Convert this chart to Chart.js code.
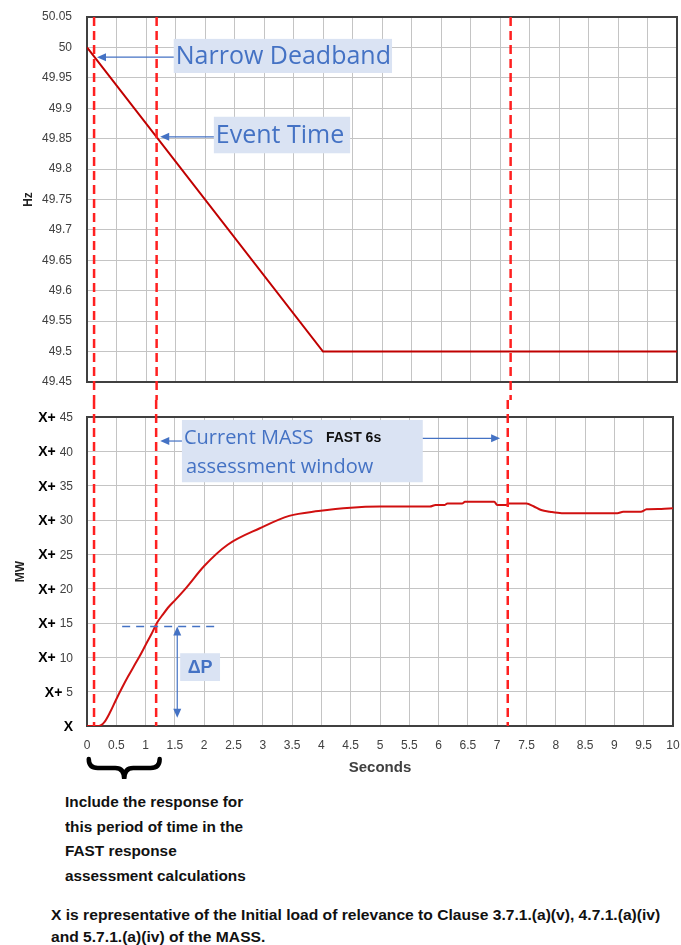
<!DOCTYPE html>
<html lang="en">
<head>
<meta charset="UTF-8">
<title>Frequency / MW response</title>
<script src="https://cdn.jsdelivr.net/npm/chart.js@4.4.0/dist/chart.umd.min.js"></script>
<style>
    body { margin: 0; background: #fff; }
    .page { position: relative; width: 681px; height: 945px; overflow: hidden; }
    #hz { position: absolute; left: 0; top: 0; }
    #mw { position: absolute; left: 0; top: 400px; }
    .note {
        position: absolute;
        width: max-content;
        font-family: "Liberation Sans", Arial, sans-serif;
        font-weight: bold;
        color: #111;
        white-space: nowrap;
        transform-origin: 0 0;
    }
    #period { left: 65px; top: 790px; font-size: 15px; line-height: 24.5px; }
    #footer { left: 51px; top: 904px; font-size: 15px; line-height: 22px; }
</style>
</head>
<body>
<div class="page">
    <canvas id="hz" width="681" height="400"></canvas>
    <canvas id="mw" width="681" height="390"></canvas>
    <div class="note" id="period">Include the response for<br>this period of time in the<br>FAST response<br>assessment calculations</div>
    <div class="note" id="footer">X is representative of the Initial load of relevance to Clause 3.7.1.(a)(v), 4.7.1.(a)(iv)<br>and 5.7.1.(a)(iv) of the MASS.</div>
</div>

<script>

// frequency trace (top panel)
var hzTime  = [0, 4, 10];
var hzValue = [50, 49.5, 49.5];
var hzTicks = [49.45, 49.5, 49.55, 49.6, 49.65, 49.7, 49.75, 49.8, 49.85, 49.9, 49.95, 50, 50.05];
var hzTickLabels = ['49.45', '49.5', '49.55', '49.6', '49.65', '49.7', '49.75', '49.8', '49.85', '49.9', '49.95', '50', '50.05'];

// MW trace (bottom panel), values above the initial load X
var mwTime  = [0, 0.2, 0.3, 0.4, 0.5, 0.6, 0.7, 0.8, 0.9, 1.0, 1.1, 1.2, 1.3, 1.4, 1.5, 1.7, 2.0, 2.4, 2.95, 3.45, 3.95,
               4.5, 5.0, 5.85, 5.95, 6.1, 6.15, 6.4, 6.45, 6.95, 7.0, 7.15, 7.2, 7.5, 7.62, 7.75, 7.9, 8.1, 9.05, 9.15, 9.45, 9.55, 9.8, 10];
var mwValue = [0, 0, 0.6, 2.1, 3.9, 5.6, 7.2, 8.7, 10.2, 11.8, 13.4, 15.1, 16.3, 17.4, 18.3, 20.2, 23.3, 26.4, 28.8, 30.6, 31.3,
               31.8, 31.95, 31.95, 32.2, 32.2, 32.4, 32.4, 32.65, 32.65, 32.2, 32.2, 32.4, 32.4, 32.0, 31.45, 31.2, 31.0, 31.0, 31.2, 31.2, 31.55, 31.6, 31.7];
var mwTicks = [0, 5, 10, 15, 20, 25, 30, 35, 40, 45];
var mwTickNumbers = ['', '5', '10', '15', '20', '25', '30', '35', '40', '45'];

// shared time axis
var secTicks = [0, 0.5, 1, 1.5, 2, 2.5, 3, 3.5, 4, 4.5, 5, 5.5, 6, 6.5, 7, 7.5, 8, 8.5, 9, 9.5, 10];
var secTickLabels = ['0', '0.5', '1', '1.5', '2', '2.5', '3', '3.5', '4', '4.5', '5', '5.5', '6', '6.5', '7', '7.5', '8', '8.5', '9', '9.5', '10'];

// red dashed markers: narrow deadband, event time, end of FAST 6s window
var markerTimes = [0.12, 1.18, 7.18];

var BLUE = '#4472c4';
var BOX = '#dae3f3';
var GRID = '#c4c4c4';
var FRAME = '#404040';

function toPoints(xs, ys) {
    return xs.map(function (x, i) { return { x: x, y: ys[i] }; });
}

function arrow(ctx, x1, y1, x2, y2) {
    var a = Math.atan2(y2 - y1, x2 - x1);
    ctx.beginPath();
    ctx.moveTo(x1, y1);
    ctx.lineTo(x2 - Math.cos(a) * 6, y2 - Math.sin(a) * 6);
    ctx.stroke();
    ctx.beginPath();
    ctx.moveTo(x2, y2);
    ctx.lineTo(x2 - Math.cos(a) * 9 + Math.sin(a) * 4, y2 - Math.sin(a) * 9 - Math.cos(a) * 4);
    ctx.lineTo(x2 - Math.cos(a) * 9 - Math.sin(a) * 4, y2 - Math.sin(a) * 9 + Math.cos(a) * 4);
    ctx.closePath();
    ctx.fill();
}

var framePlugin = {
    id: 'frame',
    beforeDatasetsDraw: function (chart) {
        var a = chart.chartArea, ctx = chart.ctx;
        ctx.save();
        ctx.strokeStyle = FRAME;
        ctx.lineWidth = 2;
        ctx.strokeRect(a.left, a.top, a.right - a.left, a.bottom - a.top);
        ctx.restore();
    }
};

function markerPlugin(fromTop) {
    return {
        id: 'markers',
        afterDatasetsDraw: function (chart) {
            var ctx = chart.ctx, x = chart.scales.x, a = chart.chartArea;
            ctx.save();
            ctx.strokeStyle = '#ff2020';
            ctx.lineWidth = 2.5;
            ctx.setLineDash([9, 5]);
            markerTimes.forEach(function (t) {
                var px = x.getPixelForValue(t);
                ctx.beginPath();
                if (fromTop) { ctx.moveTo(px, a.top); ctx.lineTo(px, chart.height); }
                else { ctx.moveTo(px, 0); ctx.lineTo(px, a.bottom); }
                ctx.stroke();
            });
            ctx.restore();
        }
    };
}

function box(ctx, xs, ys, t0, t1, v0, v1) {
    var l = xs.getPixelForValue(t0), r = xs.getPixelForValue(t1);
    var t = ys.getPixelForValue(v0), b = ys.getPixelForValue(v1);
    ctx.fillStyle = BOX;
    ctx.fillRect(l, t, r - l, b - t);
    return { l: l, r: r, t: t, b: b };
}

var hzNotes = {
    id: 'hzNotes',
    afterDatasetsDraw: function (chart) {
        var ctx = chart.ctx, xs = chart.scales.x, ys = chart.scales.y;
        ctx.save();
        ctx.font = '25px "Open Sans"';
        ctx.textBaseline = 'middle';

        var b1 = box(ctx, xs, ys, 1.47, 5.17, 50.014, 49.958);
        ctx.fillStyle = BLUE;
        ctx.fillText('Narrow Deadband', b1.l + 2, (b1.t + b1.b) / 2 + 1);
        var b2 = box(ctx, xs, ys, 2.15, 4.46, 49.886, 49.826);
        ctx.fillStyle = BLUE;
        ctx.fillText('Event Time', b2.l + 2, (b2.t + b2.b) / 2 + 1);

        ctx.strokeStyle = BLUE;
        ctx.lineWidth = 1.2;
        arrow(ctx, b1.l, ys.getPixelForValue(49.984), xs.getPixelForValue(0.17), ys.getPixelForValue(49.984));
        arrow(ctx, b2.l, ys.getPixelForValue(49.853), xs.getPixelForValue(1.24), ys.getPixelForValue(49.853));
        ctx.restore();
    }
};

var mwNotes = {
    id: 'mwNotes',
    afterDatasetsDraw: function (chart) {
        var ctx = chart.ctx, xs = chart.scales.x, ys = chart.scales.y, a = chart.chartArea;
        ctx.save();

        // assessment window callout
        var b = box(ctx, xs, ys, 1.62, 5.73, 44.56, 35.5);
        ctx.fillStyle = BLUE;
        ctx.font = '20px "Open Sans"';
        ctx.textBaseline = 'alphabetic';
        ctx.fillText('Current MASS', b.l + 2, b.t + 24);
        ctx.fillText('assessment window', b.l + 4, b.t + 53);
        ctx.fillStyle = '#111';
        ctx.font = 'bold 14px "Liberation Sans", Arial, sans-serif';
        ctx.fillText('FAST 6s', b.l + 144, b.t + 22);

        ctx.strokeStyle = BLUE;
        ctx.fillStyle = BLUE;
        ctx.lineWidth = 1.2;
        arrow(ctx, b.l, ys.getPixelForValue(41.5), xs.getPixelForValue(1.25), ys.getPixelForValue(41.5));
        arrow(ctx, b.r, ys.getPixelForValue(41.9), xs.getPixelForValue(7.05), ys.getPixelForValue(41.9));

        // delta P
        ctx.lineWidth = 1.5;
        ctx.setLineDash([8, 6]);
        ctx.beginPath();
        ctx.moveTo(xs.getPixelForValue(0.6), ys.getPixelForValue(14.5));
        ctx.lineTo(xs.getPixelForValue(2.22), ys.getPixelForValue(14.5));
        ctx.stroke();
        ctx.setLineDash([]);
        var ax = xs.getPixelForValue(1.54);
        var yTop = ys.getPixelForValue(14.5), yBot = ys.getPixelForValue(1.2);
        ctx.lineWidth = 1.2;
        arrow(ctx, ax, (yTop + yBot) / 2, ax, yTop);
        arrow(ctx, ax, (yTop + yBot) / 2, ax, yBot);
        var d = box(ctx, xs, ys, 1.59, 2.27, 10.6, 6.55);
        ctx.fillStyle = BLUE;
        ctx.font = 'bold 18px "Liberation Sans", Arial, sans-serif';
        ctx.textAlign = 'center';
        ctx.textBaseline = 'middle';
        ctx.fillText('\u0394P', (d.l + d.r) / 2, (d.t + d.b) / 2 + 1);

        // brace under the first period
        var l = xs.getPixelForValue(0.03), r = xs.getPixelForValue(1.24), c = (l + r) / 2;
        var y0 = a.bottom + 33, y1 = a.bottom + 42, y2 = a.bottom + 53;
        ctx.strokeStyle = '#000';
        ctx.lineWidth = 4.5;
        ctx.lineCap = 'round';
        ctx.beginPath();
        ctx.moveTo(l, y0);
        ctx.quadraticCurveTo(l, y1, l + 9, y1);
        ctx.lineTo(c - 9, y1);
        ctx.quadraticCurveTo(c, y1, c, y2);
        ctx.quadraticCurveTo(c, y1, c + 9, y1);
        ctx.lineTo(r - 9, y1);
        ctx.quadraticCurveTo(r, y1, r, y0);
        ctx.stroke();

        ctx.restore();
    },
    afterDraw: function (chart) {
        // "X+ n" tick labels with a bold prefix
        var ctx = chart.ctx, ys = chart.scales.y, a = chart.chartArea;
        ctx.save();
        ctx.textAlign = 'right';
        ctx.textBaseline = 'middle';
        mwTicks.forEach(function (v, i) {
            var py = ys.getPixelForValue(v);
            var right = a.left - 14;
            var num = mwTickNumbers[i];
            var prefix = num ? 'X+' : 'X';
            if (num) {
                ctx.font = '12px "Liberation Sans", Arial, sans-serif';
                ctx.fillStyle = '#404040';
                ctx.fillText(num, right, py + 1);
                right -= ctx.measureText(num).width + 4;
            }
            ctx.font = 'bold 14px "Liberation Sans", Arial, sans-serif';
            ctx.fillStyle = '#000';
            ctx.fillText(prefix, right, py + 1);
        });
        ctx.restore();
    }
};

function timeAxis(showLabels) {
    return {
        type: 'linear',
        min: 0,
        max: 10,
        afterBuildTicks: function (scale) {
            scale.ticks = secTicks.map(function (v) { return { value: v }; });
        },
        afterFit: function (scale) {
            scale.height = showLabels ? 60 : 0;
            scale.paddingLeft = 0;
            scale.paddingRight = 0;
        },
        grid: { color: GRID, lineWidth: 1, drawTicks: false },
        border: { color: FRAME, width: 2 },
        ticks: {
            display: showLabels,
            padding: 12,
            color: '#404040',
            font: { family: '"Liberation Sans", Arial, sans-serif', size: 12 },
            callback: function (v, i) { return secTickLabels[i]; }
        },
        title: {
            display: showLabels,
            text: 'Seconds',
            color: '#404040',
            font: { family: '"Liberation Sans", Arial, sans-serif', size: 15, weight: 'bold' },
            padding: { top: 4, bottom: 9 }
        }
    };
}

function fixWidth(w) {
    return function (scale) {
        scale.width = w;
        scale.paddingTop = 0;
        scale.paddingBottom = 0;
    };
}

Chart.defaults.animation = false;
Chart.defaults.font.family = '"Liberation Sans", Arial, sans-serif';

new Chart(document.getElementById('hz').getContext('2d'), {
    type: 'line',
    data: {
        datasets: [{
            label: 'Hz',
            data: toPoints(hzTime, hzValue),
            borderColor: '#c00000',
            borderWidth: 2,
            pointRadius: 0,
            tension: 0
        }]
    },
    options: {
        responsive: false,
        layout: { padding: { left: 17, right: 4, top: 17, bottom: 18 } },
        plugins: { legend: { display: false }, tooltip: { enabled: false } },
        scales: {
            x: timeAxis(false),
            y: {
                min: 49.45,
                max: 50.05,
                afterBuildTicks: function (scale) {
                    scale.ticks = hzTicks.map(function (v) { return { value: v }; });
                },
                afterFit: fixWidth(70),
                grid: { color: GRID, lineWidth: 1, drawTicks: false },
                border: { color: FRAME, width: 2 },
                ticks: {
                    padding: 15,
                    color: '#404040',
                    font: { size: 12 },
                    callback: function (v, i) { return hzTickLabels[i]; }
                },
                title: {
                    display: true,
                    text: 'Hz',
                    color: '#222',
                    font: { size: 12, weight: 'bold' },
                    padding: { top: 4, bottom: 0 }
                }
            }
        }
    },
    plugins: [framePlugin, markerPlugin(true), hzNotes]
});

new Chart(document.getElementById('mw').getContext('2d'), {
    type: 'line',
    data: {
        datasets: [{
            label: 'MW',
            data: toPoints(mwTime, mwValue),
            borderColor: '#d01010',
            borderWidth: 2,
            pointRadius: 0,
            cubicInterpolationMode: 'monotone'
        }]
    },
    options: {
        responsive: false,
        layout: { padding: { left: 9, right: 8, top: 17, bottom: 4 } },
        plugins: { legend: { display: false }, tooltip: { enabled: false } },
        scales: {
            x: timeAxis(true),
            y: {
                min: 0,
                max: 45,
                afterBuildTicks: function (scale) {
                    scale.ticks = mwTicks.map(function (v) { return { value: v }; });
                },
                afterFit: fixWidth(78),
                grid: { color: GRID, lineWidth: 1, drawTicks: false },
                border: { color: FRAME, width: 2 },
                ticks: { display: false },
                title: {
                    display: true,
                    text: 'MW',
                    color: '#222',
                    font: { size: 12, weight: 'bold' },
                    padding: { top: 4, bottom: 0 }
                }
            }
        }
    },
    plugins: [framePlugin, markerPlugin(false), mwNotes]
});

// squeeze the bold notes to the narrow widths of the original
function fitNote(id, target) {
    var el = document.getElementById(id);
    el.style.transform = 'scaleX(' + (target / el.offsetWidth) + ')';
}
fitNote('period', 181);
fitNote('footer', 609);

</script>
</body>
</html>
